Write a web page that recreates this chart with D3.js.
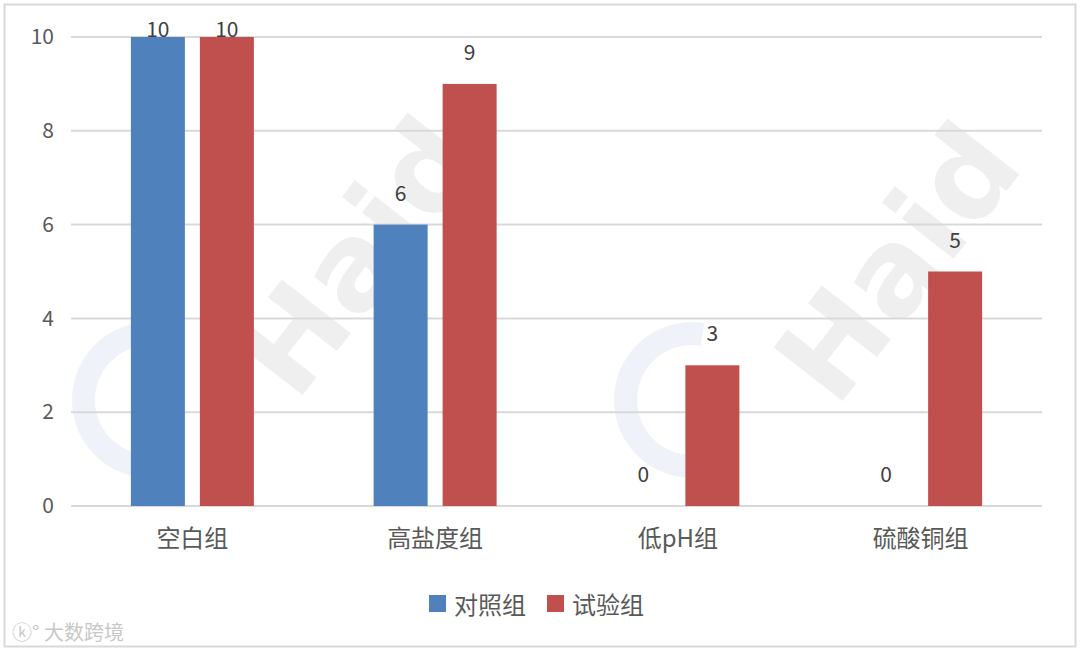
<!DOCTYPE html>
<html><head><meta charset="utf-8">
<script src="https://cdn.jsdelivr.net/npm/d3@7"></script>
<style>body{margin:0;background:#fff;}svg{display:block;}</style>
</head><body>
<svg id="c" width="1080" height="652"></svg>
<script>
const categories = ["空白组", "高盐度组", "低pH组", "硫酸铜组"];
const seriesNames = ["对照组", "试验组"];
const controlValues = [10, 6, 0, 0];
const testValues = [10, 9, 3, 5];
const yTicks = [0, 2, 4, 6, 8, 10];
const colors = ["#4F81BD", "#C0504D"];

(function () {
const svg = d3.select("#c");
const font = "'Noto Sans CJK SC', 'Noto Sans', sans-serif";
svg.append("rect").attr("x", 4.5).attr("y", 4.5).attr("width", 1071).attr("height", 642)
  .attr("fill", "#fff").attr("stroke", "#d9d9d9").attr("stroke-width", 2);

const pLeft = 71, pRight = 1042, pTop = 37, pBottom = 506;
const x = d3.scaleBand().domain(categories).range([pLeft, pRight]).paddingInner(0).paddingOuter(0);
const y = d3.scaleLinear().domain([0, 10]).range([pBottom, pTop]);

// watermarks
const wm = svg.append("g").attr("pointer-events", "none");
[[150, 400], [692, 400]].forEach(([cx, cy]) => {
  wm.append("path").attr("d", d3.arc()({innerRadius: 55, outerRadius: 78, startAngle: Math.PI * 0.95, endAngle: Math.PI * 2.05}))
    .attr("transform", `translate(${cx},${cy})`).attr("fill", "#dfe6f3").attr("opacity", 0.5);
});
[[365, 262], [905, 268]].forEach(([cx, cy]) => {
  wm.append("text").attr("transform", `translate(${cx},${cy}) rotate(-52)`).attr("text-anchor", "middle")
    .attr("dominant-baseline", "middle").attr("font-family", "'DejaVu Sans', sans-serif").attr("font-weight", "bold")
    .attr("font-size", 120).attr("fill", "#000").attr("opacity", 0.06).text("Haid");
});

// gridlines
svg.append("g").selectAll("line").data(yTicks).join("line")
  .attr("x1", pLeft).attr("x2", pRight).attr("y1", d => y(d)).attr("y2", d => y(d))
  .attr("stroke", "#d9d9d9").attr("stroke-width", 2);

// y axis labels
const yAxis = d3.axisLeft(y).tickValues(yTicks).tickSize(0).tickPadding(17);
const ga = svg.append("g").attr("transform", `translate(${pLeft},0)`).call(yAxis);
ga.select(".domain").remove();
ga.selectAll("text").attr("font-family", font).attr("font-size", 21).attr("fill", "#595959");

// bars
const bw = 54, gap = 15;
const sub = d3.scaleOrdinal().domain(seriesNames).range([-(gap / 2 + bw), gap / 2]);
const data = categories.flatMap((c, i) => [
  {c, s: seriesNames[0], v: controlValues[i], col: colors[0]},
  {c, s: seriesNames[1], v: testValues[i], col: colors[1]}
]);
svg.append("g").selectAll("rect").data(data).join("rect")
  .attr("x", d => x(d.c) + x.bandwidth() / 2 + sub(d.s)).attr("width", bw)
  .attr("y", d => y(d.v)).attr("height", d => y(0) - y(d.v)).attr("fill", d => d.col);

svg.append("g").selectAll("text").data(data).join("text")
  .attr("x", d => x(d.c) + x.bandwidth() / 2 + sub(d.s) + bw / 2)
  .attr("y", d => Math.max(y(d.v) - 33, 28)).attr("dominant-baseline", "central").attr("text-anchor", "middle")
  .attr("font-family", font).attr("font-size", 21).attr("fill", "#404040").text(d => d.v);

// x axis labels
const xAxis = d3.axisBottom(x).tickSize(0).tickPadding(24);
const gx = svg.append("g").attr("transform", `translate(0,${pBottom})`).call(xAxis);
gx.select(".domain").remove();
gx.selectAll("text").attr("font-family", font).attr("font-size", 24).attr("fill", "#595959");

// legend
const legend = svg.append("g");
const lx = [429, 547];
seriesNames.forEach((s, i) => {
  legend.append("rect").attr("x", lx[i]).attr("y", 595).attr("width", 17).attr("height", 17).attr("fill", colors[i]);
  legend.append("text").attr("x", lx[i] + 25).attr("y", 603).attr("dominant-baseline", "central")
    .attr("font-family", font).attr("font-size", 24).attr("fill", "#595959").text(s);
});

// corner watermark
svg.append("text").attr("x", 12).attr("y", 640).attr("font-family", font).attr("font-size", 20)
  .attr("fill", "#c8c8c8").text("ⓚ° 大数跨境");
})();
</script>
</body></html>
